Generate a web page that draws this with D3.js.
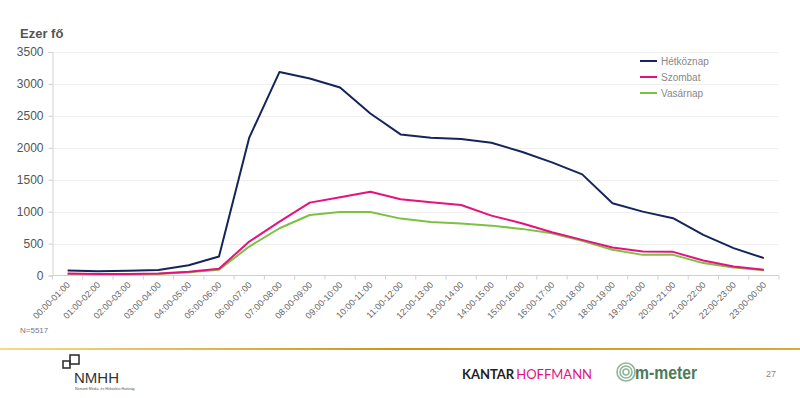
<!DOCTYPE html>
<html>
<head>
<meta charset="utf-8">
<script src="https://cdn.jsdelivr.net/npm/d3@7"></script>
<style>
  body { margin: 0; background: #fff; }
  svg { display: block; font-family: "Liberation Sans", Arial, sans-serif; }
</style>
</head>
<body>
<div id="chart"></div>
<script>
// hours of the day
const hours = ["00:00-01:00", "01:00-02:00", "02:00-03:00", "03:00-04:00", "04:00-05:00", "05:00-06:00",
    "06:00-07:00", "07:00-08:00", "08:00-09:00", "09:00-10:00", "10:00-11:00", "11:00-12:00",
    "12:00-13:00", "13:00-14:00", "14:00-15:00", "15:00-16:00", "16:00-17:00", "17:00-18:00",
    "18:00-19:00", "19:00-20:00", "20:00-21:00", "21:00-22:00", "22:00-23:00", "23:00-00:00"];

// thousand people per series
const hetkoznap = [80, 65, 75, 85, 160, 297, 2160, 3188, 3084, 2944, 2537, 2209,
    2156, 2136, 2078, 1938, 1772, 1584, 1131, 1000, 897, 636, 428, 272];
const szombat = [32, 25, 25, 30, 60, 105, 531, 844, 1141, 1225, 1313, 1194,
    1147, 1105, 938, 819, 678, 558, 438, 375, 370, 234, 141, 89];
const vasarnap = [22, 18, 20, 25, 50, 89, 453, 740, 948, 995, 995, 891,
    839, 813, 781, 730, 663, 542, 402, 323, 323, 194, 125, 84];

const seriesNames = ["Hétköznap", "Szombat", "Vasárnap"];
const seriesColors = ["#15255c", "#e5127e", "#7cc142"];
const yTicks = [0, 500, 1000, 1500, 2000, 2500, 3000, 3500];

const width = 800;
const height = 398;
const margin = {top: 52, right: 21, bottom: 122.5, left: 52.5};

const svg = d3.select("#chart")
    .append("svg")
    .attr("width", width)
    .attr("height", height);

const x = d3.scalePoint()
    .domain(hours)
    .range([margin.left, width - margin.right])
    .padding(0.5);

const y = d3.scaleLinear()
    .domain([0, 3500])
    .range([height - margin.bottom, margin.top]);

// grid lines
svg.append("g")
    .selectAll("line")
    .data(yTicks.slice(1))
    .join("line")
    .attr("x1", margin.left)
    .attr("x2", width - margin.right)
    .attr("y1", d => Math.round(y(d)) + 0.5)
    .attr("y2", d => Math.round(y(d)) + 0.5)
    .attr("stroke", "#efefef");

// y axis
const yAxis = svg.append("g")
    .attr("transform", `translate(${margin.left},0)`)
    .call(d3.axisLeft(y).tickValues(yTicks).tickFormat(d3.format("d")).tickSize(4).tickPadding(5));
yAxis.select(".domain").attr("stroke", "#d0d0d0");
yAxis.selectAll(".tick line").attr("stroke", "#d0d0d0");
yAxis.selectAll("text")
    .attr("fill", "#555")
    .style("font-family", "'Liberation Sans', Arial, sans-serif")
    .style("font-size", "12px");

// x axis, ticks between the categories
const step = x.step();
const xAxis = svg.append("g")
    .attr("transform", `translate(0,${y(0)})`);
xAxis.append("line")
    .attr("x1", margin.left)
    .attr("x2", width - margin.right)
    .attr("stroke", "#d0d0d0");
xAxis.selectAll(".tk")
    .data(d3.range(hours.length + 1))
    .join("line")
    .attr("class", "tk")
    .attr("x1", i => margin.left + i * step)
    .attr("x2", i => margin.left + i * step)
    .attr("y1", 0)
    .attr("y2", 4)
    .attr("stroke", "#d0d0d0");
xAxis.selectAll(".lbl")
    .data(hours)
    .join("text")
    .attr("class", "lbl")
    .attr("text-anchor", "end")
    .attr("transform", d => `translate(${x(d) + 3},${10}) rotate(-45)`)
    .attr("fill", "#666")
    .style("font-size", "9px")
    .text(d => d);

// lines
const allSeries = [hetkoznap, szombat, vasarnap];
const line = d3.line()
    .x((d, i) => x(hours[i]))
    .y(d => y(d));

// draw green first so the darker lines sit on top
[2, 1, 0].forEach(k => {
    svg.append("path")
        .datum(allSeries[k])
        .attr("fill", "none")
        .attr("stroke", seriesColors[k])
        .attr("stroke-width", 2)
        .attr("stroke-linejoin", "round")
        .attr("d", line);
});

// legend
const legend = svg.append("g")
    .attr("transform", "translate(640,61)");
seriesNames.forEach((name, i) => {
    const g = legend.append("g").attr("transform", `translate(0,${i * 16})`);
    g.append("line")
        .attr("x1", 0).attr("x2", 17)
        .attr("stroke", seriesColors[i])
        .attr("stroke-width", 2);
    g.append("text")
        .attr("x", 21)
        .attr("y", 3.5)
        .attr("fill", "#888")
        .style("font-size", "10px")
        .text(name);
});

// titles
svg.append("text")
    .attr("x", 20)
    .attr("y", 38)
    .attr("fill", "#555")
    .style("font-size", "13px")
    .style("font-weight", "bold")
    .text("Ezer fő");

svg.append("text")
    .attr("x", 20)
    .attr("y", 333)
    .attr("fill", "#777")
    .style("font-size", "8px")
    .text("N=5517");

// footer line
const grad = svg.append("defs").append("linearGradient")
    .attr("id", "gold");
grad.append("stop").attr("offset", "0%").attr("stop-color", "#f3dc8a");
grad.append("stop").attr("offset", "50%").attr("stop-color", "#c9961a");
grad.append("stop").attr("offset", "100%").attr("stop-color", "#d9aa35");
svg.append("rect")
    .attr("x", 0).attr("y", 348)
    .attr("width", width).attr("height", 2)
    .attr("fill", "url(#gold)");

// NMHH logo
const nmhh = svg.append("g");
nmhh.append("rect").attr("x", 63).attr("y", 361).attr("width", 7).attr("height", 7)
    .attr("fill", "none").attr("stroke", "#333").attr("stroke-width", 1.6);
nmhh.append("rect").attr("x", 70).attr("y", 355).attr("width", 9).attr("height", 9)
    .attr("fill", "none").attr("stroke", "#333").attr("stroke-width", 1.6);
nmhh.append("text")
    .attr("x", 74).attr("y", 383)
    .attr("fill", "#333")
    .style("font-size", "15px")
    .style("font-weight", "300")
    .attr("textLength", 45)
    .text("NMHH");
nmhh.append("text")
    .attr("x", 75).attr("y", 390)
    .attr("fill", "#555")
    .style("font-size", "3.5px")
    .text("Nemzeti Média- és Hírközlési Hatóság");

// Kantar Hoffmann logo
const kh = svg.append("text")
    .attr("x", 462).attr("y", 379)
    .style("font-size", "13px")
    .style("font-family", "Lato, sans-serif");
kh.append("tspan").attr("fill", "#222").style("font-weight", "bold").text("KANTAR");
kh.append("tspan").attr("fill", "#e5127e").attr("dx", 2).text("HOFFMANN");

// m-meter logo
const mm = svg.append("g");
[9, 6, 3].forEach(r => {
    mm.append("circle")
        .attr("cx", 626).attr("cy", 372).attr("r", r)
        .attr("fill", "none")
        .attr("stroke", "#8fb59a")
        .attr("stroke-width", 1.6);
});
mm.append("text")
    .attr("x", 635).attr("y", 379)
    .attr("fill", "#4d7a5a")
    .style("font-size", "18px")
    .style("font-weight", "bold")
    .attr("textLength", 62)
    .attr("lengthAdjust", "spacingAndGlyphs")
    .text("m-meter");

svg.append("text")
    .attr("x", 766).attr("y", 377)
    .attr("fill", "#888")
    .style("font-size", "9px")
    .text("27");
</script>
</body>
</html>
